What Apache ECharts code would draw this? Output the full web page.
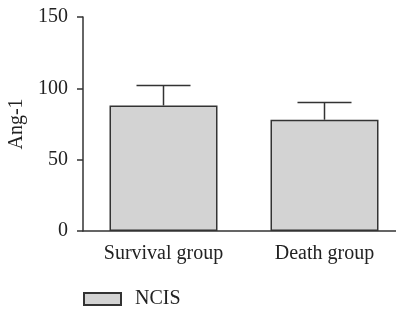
<!DOCTYPE html>
<html>
<head>
    <meta charset="UTF-8">
    <title>Ang-1</title>
    <script src="https://cdn.jsdelivr.net/npm/echarts@6/dist/echarts.min.js"></script>
    <style>
        html, body { margin: 0; padding: 0; background: #fff; }
        #chart { width: 396px; height: 311px; }
    </style>
</head>
<body>
<div id="chart"></div>
<script>
// data
var categories = ['Survival group', 'Death group'];
var means = [88, 78];
var errTop = [102, 90];
var yTicks = [0, 50, 100, 150];

var fontFamily = '"Liberation Serif", "DejaVu Serif", serif';
var ink = '#333';
var fs = 20;

var chart = echarts.init(document.getElementById('chart'));

var option = {
    animation: false,
    legend: {
        data: ['NCIS'],
        icon: 'rect',
        left: 78,
        top: 284,
        itemWidth: 37,
        itemHeight: 12,
        textStyle: { fontFamily: fontFamily, fontSize: fs, color: '#222', padding: [0, 0, 0, 9] }
    },
    grid: { left: 83, top: 17, width: 322, height: 214, outerBoundsMode: 'none' },
    xAxis: {
        type: 'category',
        data: categories,
        axisLine: { lineStyle: { color: ink, width: 1.5 } },
        axisTick: { alignWithLabel: true, length: 7, lineStyle: { color: ink, width: 1.5 } },
        axisLabel: { fontFamily: fontFamily, fontSize: fs, color: '#222', margin: 13 }
    },
    yAxis: {
        type: 'value',
        min: yTicks[0],
        max: yTicks[yTicks.length - 1],
        interval: 50,
        name: 'Ang-1',
        nameLocation: 'middle',
        nameGap: 52,
        nameTextStyle: { fontFamily: fontFamily, fontSize: fs, color: '#222' },
        splitLine: { show: false },
        axisLine: { show: true, lineStyle: { color: ink, width: 1.5 } },
        axisTick: { show: true, length: 6, lineStyle: { color: ink, width: 1.5 } },
        axisLabel: { fontFamily: fontFamily, fontSize: fs, color: '#222', margin: 15 }
    },
    series: [
        {
            name: 'NCIS',
            type: 'bar',
            data: means,
            barWidth: 108,
            itemStyle: { color: '#d3d3d3', borderColor: ink, borderWidth: 1.5 }
        },
        {
            // error bars (upper only)
            type: 'custom',
            data: categories.map(function (c, i) { return [i, means[i], errTop[i]]; }),
            renderItem: function (params, api) {
                var base = api.coord([api.value(0), api.value(1)]);
                var top = api.coord([api.value(0), api.value(2)]);
                var half = 27;
                var st = { stroke: ink, lineWidth: 1.5 };
                return {
                    type: 'group',
                    children: [
                        { type: 'line', shape: { x1: base[0], y1: base[1], x2: top[0], y2: top[1] }, style: st },
                        { type: 'line', shape: { x1: top[0] - half, y1: top[1], x2: top[0] + half, y2: top[1] }, style: st }
                    ]
                };
            },
            z: 3
        }
    ]
};

chart.setOption(option);
</script>
</body>
</html>
